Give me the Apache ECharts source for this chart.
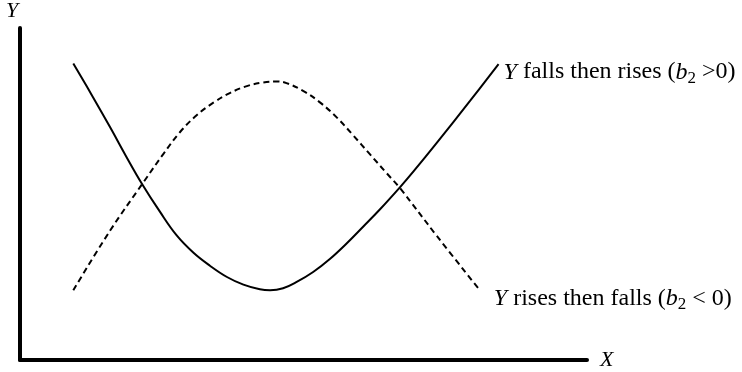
<!DOCTYPE html>
<html>
<head>
<meta charset="utf-8">
<script src="https://cdn.jsdelivr.net/npm/echarts@6/dist/echarts.min.js"></script>
<style>
  html, body { margin: 0; padding: 0; background: #fff; }
  #box { width: 742px; height: 372px; }
</style>
</head>
<body>
<div id="box"></div>
<script>
var chart = echarts.init(document.getElementById("box"));

// b2 > 0 : Y falls then rises (solid)
var fallRiseX = [9.4, 12.9, 15.9, 18.8, 21.5, 24.7, 27.6, 30.6, 33.5, 36.5, 39.4, 42.3, 44.1, 46.4,
  48.8, 51.7, 54.7, 57.6, 60.6, 63.5, 67.0, 69.4, 73.5, 79.4, 84.4];
var fallRiseY = [89.3, 79.1, 70.1, 61.1, 53.1, 44.6, 37.6, 32.3, 28.4, 25.0, 22.7, 21.3, 21.0, 21.6,
  23.5, 26.5, 30.5, 35.1, 40.3, 45.4, 52.0, 56.8, 65.4, 78.1, 89.1];
// b2 < 0 : Y rises then falls (dashed)
var riseFallX = [9.4, 15.9, 21.8, 25.3, 28.2, 31.2, 34.1, 37.0, 40.0, 42.9, 45.3, 47.0, 50.0,
  52.9, 55.9, 58.8, 61.7, 64.7, 67.0, 73.5, 81.1];
var riseFallY = [21.0, 39.0, 53.6, 62.1, 68.6, 73.8, 77.5, 80.4, 82.5, 83.6, 83.9, 83.4, 81.0,
  77.6, 73.0, 67.6, 62.0, 56.2, 51.8, 37.4, 21.0];

function pairs(xs, ys) {
  var out = [];
  for (var i = 0; i < xs.length; i++) out.push([xs[i], ys[i]]);
  return out;
}

var serif = "Liberation Serif, Times New Roman, serif";
var labelRich = {
  it: { fontFamily: serif, fontStyle: "italic", fontSize: 24, lineHeight: 30, color: "#000" },
  n: { fontFamily: serif, fontSize: 24, lineHeight: 30, color: "#000" },
  sub: { fontFamily: serif, fontSize: 17, lineHeight: 16, verticalAlign: "bottom", color: "#000" }
};

var option = {
  backgroundColor: "#fff",
  animation: false,
  grid: { left: 20, right: 155, top: 27, bottom: 12 },
  xAxis: {
    type: "value",
    min: 0,
    max: 100,
    name: "X",
    nameLocation: "end",
    nameGap: 13,
    nameTextStyle: { fontFamily: serif, fontStyle: "italic", fontSize: 22, color: "#000", padding: [8, 0, 0, 0] },
    axisLine: { show: true, lineStyle: { color: "#000", width: 4 } },
    axisTick: { show: false },
    axisLabel: { show: false },
    splitLine: { show: false }
  },
  yAxis: {
    type: "value",
    min: 0,
    max: 100,
    name: "Y",
    nameLocation: "end",
    nameGap: 6,
    nameTextStyle: { fontFamily: serif, fontStyle: "italic", fontSize: 22, color: "#000", align: "center", padding: [0, 16, 0, 0] },
    axisLine: { show: true, lineStyle: { color: "#000", width: 4 } },
    axisTick: { show: false },
    axisLabel: { show: false },
    splitLine: { show: false }
  },
  series: [
    {
      type: "line",
      data: pairs(fallRiseX, fallRiseY),
      smooth: 0.4,
      symbol: "none",
      lineStyle: { color: "#000", width: 2 },
      endLabel: {
        show: true,
        distance: 5,
        offset: [0, 8],
        formatter: "{it|Y}{n| falls then rises (}{it|b}{sub|2}{n| >0)}",
        rich: labelRich
      }
    },
    {
      type: "line",
      data: pairs(riseFallX, riseFallY),
      smooth: 0.4,
      symbol: "none",
      lineStyle: { color: "#000", width: 2, type: [6, 4] },
      endLabel: {
        show: true,
        distance: 14,
        offset: [0, 8],
        formatter: "{it|Y}{n| rises then falls (}{it|b}{sub|2}{n| < 0)}",
        rich: labelRich
      }
    }
  ]
};
chart.setOption(option);
</script>
</body>
</html>
